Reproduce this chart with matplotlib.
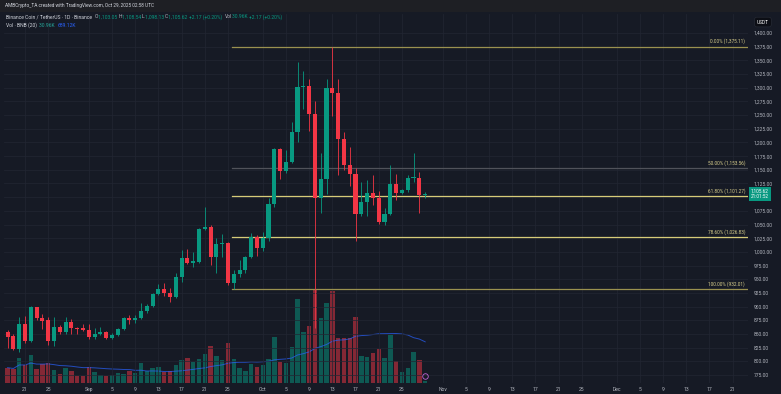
import matplotlib
matplotlib.use("Agg")
import matplotlib.pyplot as plt
import matplotlib.dates as mdates
import matplotlib.transforms as mtrans
import numpy as np
import pandas as pd

plt.rcParams['font.family'] = ['Roboto', 'DejaVu Sans']

# daily BNB/USDT candles, Aug 18 .. Oct 29 2025
dates = pd.date_range("2025-08-18", "2025-10-29", freq="D")
opens = [853, 846, 822.5, 868, 838, 899, 879, 875, 838, 863, 854, 872, 861, 861, 857, 844, 850.5, 853, 843, 849,
         859, 879, 876, 880, 892, 901.6, 923, 931.6, 925.4, 917, 953.5, 988.3, 979, 982, 1041, 1046, 991, 1014.4,
         1016.8, 943.7, 959.6, 966.9, 991.2, 1027.7, 1006.5, 1024.8, 1087.5, 1187.5, 1147.8, 1164.8, 1219.6, 1300.8,
         1303, 1252, 1099, 1132.6, 1298.9, 1290.9, 1205.7, 1159.3, 1142.3, 1068.7, 1090.6, 1107, 1097.9, 1055.2,
         1069.2, 1124, 1107, 1113.1, 1135.6, 1135.6, 1103.05]
highs = [857, 850, 881, 883, 901, 900, 886.5, 881, 881, 866, 881, 876.7, 863.3, 868, 868, 860, 862.7, 856, 851, 861,
         881, 885, 884.6, 906, 904, 925, 941.3, 942.5, 933.4, 960.8, 1003.4, 1004.7, 1000.4, 1043, 1082, 1049, 1025.4,
         1032.7, 1018, 967, 985, 993, 1035, 1031, 1036.9, 1097.9, 1189.3, 1190, 1186, 1237.9, 1347, 1330.6, 1316,
         1275.7, 1180.7, 1316, 1375.11, 1316, 1219.6, 1192, 1153.3, 1128, 1131.3, 1140.5, 1111.3, 1080.7, 1158.8,
         1142.3, 1115, 1140.5, 1180.7, 1146.5, 1108.54]
lows = [824, 820, 817, 833, 835, 875.5, 859, 830, 828.6, 850, 850, 850, 850, 856, 840, 840, 848, 840, 841, 847,
        857, 868, 870.6, 877, 889, 899, 921, 919, 909, 915, 945.5, 977, 971.8, 980, 1040, 976, 962, 991, 939.5,
        932.01, 954.6, 962, 988, 992.5, 1002, 1020.4, 1082.6, 1133.2, 1143.6, 1161.9, 1201.4, 1261, 1221.5, 860,
        1071.6, 1105.8, 1248.3, 1140.5, 1150, 1120.4, 1020.4, 1066, 1065.6, 1085.7, 1051, 1050, 1068, 1094.8, 1105,
        1110, 1128, 1071.6, 1098.13]
closes = [845, 822.5, 868, 838, 899, 879, 874, 838, 863, 854, 872, 861, 859, 857, 844, 850.5, 853, 843, 849, 859,
          879, 876, 880, 892, 901.6, 923, 931.6, 924.3, 917, 953.5, 988.3, 979.1, 983, 1041, 1046, 991, 1014, 1016.8,
          943.7, 959.6, 966.9, 991.2, 1027.7, 1006.5, 1024.8, 1087.5, 1187.5, 1147.8, 1164.8, 1219.6, 1300.8, 1303.1,
          1252, 1099, 1132.6, 1298.9, 1290.9, 1205.7, 1159.3, 1142.3, 1068.7, 1090.6, 1107, 1099, 1055.2, 1069.2,
          1124, 1107, 1113.1, 1135.6, 1137.5, 1103.05, 1105.62]
# volume in thousands of BNB
volumes = [240, 215, 392, 282, 434, 215, 293, 318, 199, 146, 235, 183, 110, 105, 255, 172, 130, 114, 130, 157,
           146, 188, 161, 308, 188, 240, 255, 168, 183, 282, 355, 396, 334, 376, 459, 579, 418, 360, 622, 381,
           240, 188, 293, 251, 277, 371, 720, 329, 308, 568, 1315, 803, 893, 1456, 1023, 1250, 1440, 700, 700, 700,
           1034, 418, 407, 470, 528, 392, 752, 345, 172, 240, 481, 355, 31]

fib_high = 1375.11
fib_low = 932.01
fib_ratios = [0.0, 0.5, 0.618, 0.786, 1.0]
fib_start = "2025-09-26"

price_ticks = list(range(775, 1401, 25))
tick_dates = ["2025-08-21", "2025-08-25", "2025-09-01", "2025-09-05", "2025-09-09", "2025-09-13", "2025-09-17",
              "2025-09-21", "2025-09-25", "2025-10-01", "2025-10-05", "2025-10-09", "2025-10-13", "2025-10-17",
              "2025-10-21", "2025-10-25", "2025-11-01", "2025-11-05", "2025-11-09", "2025-11-13", "2025-11-17",
              "2025-11-21", "2025-11-25", "2025-12-01", "2025-12-05", "2025-12-09", "2025-12-13", "2025-12-17",
              "2025-12-21"]
tick_labels = ["21", "25", "Sep", "5", "9", "13", "17", "21", "25", "Oct", "5", "9", "13", "17", "21", "25",
               "Nov", "5", "9", "13", "17", "21", "25", "Dec", "5", "9", "13", "17", "21"]

BG = "#161a25"
UP = "#089981"
DN = "#f23645"
TXT = "#b2b5be"

x = mdates.date2num(dates)
o = np.array(opens); h = np.array(highs); l = np.array(lows); c = np.array(closes)
up = c >= o
cols = np.where(up, UP, DN)

fig = plt.figure(figsize=(7.81, 3.94), dpi=100, facecolor=BG)
rect = [4 / 781, 11 / 394, 744 / 781, 369 / 394]
vax = fig.add_axes(rect, zorder=0)
ax = fig.add_axes(rect, zorder=1)
ax.patch.set_visible(False)
vax.set_facecolor(BG)

x0 = x[0]
xlim = (x0 - 0.62, x0 + 127.66)

# volume + 20 MA
vax.bar(x, volumes, width=0.78, color=cols, alpha=0.5, linewidth=0)
vol_ma = pd.Series(volumes).rolling(20, min_periods=1).mean()
vax.plot(x, vol_ma, color="#2962ff", lw=0.7, alpha=0.7)
vax.set_xlim(xlim)
vax.set_ylim(0, 5779)
vax.axis("off")

# candles
ax.vlines(x, l, h, colors=list(cols), lw=0.6, zorder=3)
body = np.maximum(np.abs(c - o), 1.2)
ax.bar(x, body, bottom=np.minimum(o, c), width=0.72, color=cols, linewidth=0, zorder=4)

ax.set_xlim(xlim)
ax.set_ylim(760.4, 1434.7)

# fib retracement
fib_cols = ["#9a914f", "#50525a", "#d6cb78", "#d6cb78", "#9a914f"]
fx = mdates.date2num(pd.Timestamp(fib_start)) - 0.3
trans = mtrans.blended_transform_factory(ax.transAxes, ax.transData)
for r, fc in zip(fib_ratios, fib_cols):
    lvl = fib_high - r * (fib_high - fib_low)
    ax.plot([fx, xlim[1]], [lvl, lvl], color=fc, lw=0.9, zorder=2)
    ax.text(0.996, lvl + 4, "%.2f%% (%s)" % (r * 100, format(lvl, ",.2f")), transform=trans,
            ha="right", va="bottom", fontsize=3.4, color="#d9cf8c", zorder=5)

# axes styling
ax.set_yticks(price_ticks)
ax.set_yticklabels([format(p, ",.2f") if p != 1100 else "" for p in price_ticks])
ax.set_xticks(mdates.date2num(pd.to_datetime(tick_dates)))
ax.set_xticklabels(tick_labels)
ax.yaxis.tick_right()
ax.tick_params(length=0, labelsize=3.6, colors=TXT, pad=4)
ax.tick_params(axis="x", pad=3)
ax.grid(color="#222633", lw=0.5)
ax.set_axisbelow(True)
for s in ax.spines.values():
    s.set_visible(False)

# last price tag
ax.text(1.004, closes[-1], "%s\n21:01:52" % format(closes[-1], ",.2f"), transform=trans, ha="left",
        va="center", fontsize=3.4, color="white", linespacing=1.1,
        bbox=dict(boxstyle="square,pad=0.35", fc=UP, ec="none"), clip_on=False, zorder=6)
ax.text(1.012, 1420, "USDT", transform=trans, ha="left", va="center", fontsize=3.4, color="white",
        bbox=dict(boxstyle="round,pad=0.5", fc="#0c0e15", ec="#2a2e39", lw=0.4), clip_on=False)

# dividend marker
ax.plot(x[-1], 773, marker="o", ms=4, mfc="none", mec="#c062d6", mew=0.6, clip_on=False, zorder=6)

# header
fig.patches.append(plt.Rectangle((0, 1 - 12 / 394), 1, 12 / 394, transform=fig.transFigure,
                                 fc="#1e1f24", ec="none"))
fig.text(5 / 781, 1 - 6 / 394, "AMBCrypto_TA created with TradingView.com, Oct 29, 2025 02:58 UTC",
         fontsize=3.4, color="#d1d4dc", va="center")

segs2 = [("Binance Coin / TetherUS \u00b7 1D \u00b7 Binance  ", "#d1d4dc"), ("O", TXT), ("1,103.05 ", UP),
         ("H", TXT), ("1,108.54 ", UP), ("L", TXT), ("1,098.13 ", UP), ("C", TXT), ("1,105.62 ", UP),
         ("+2.17 (+0.20%)  ", UP), ("Vol", TXT), ("30.96K ", UP), ("+2.17 (+0.20%)", UP)]
segs3 = [("Vol \u00b7 BNB (20)  ", "#d1d4dc"), ("30.96K  ", "#26a69a"), ("689.12K", "#2962ff")]
for yy, segs in [(17, segs2), (25, segs3)]:
    prev = fig.text(6 / 781, 1 - yy / 394, segs[0][0], fontsize=3.6, color=segs[0][1], va="center")
    for s, col in segs[1:]:
        prev = ax.annotate(s, xy=(1, 0), xycoords=prev, va="bottom", ha="left", fontsize=3.6, color=col,
                           annotation_clip=False)

fig.savefig("out.png", dpi=100, facecolor=BG)
